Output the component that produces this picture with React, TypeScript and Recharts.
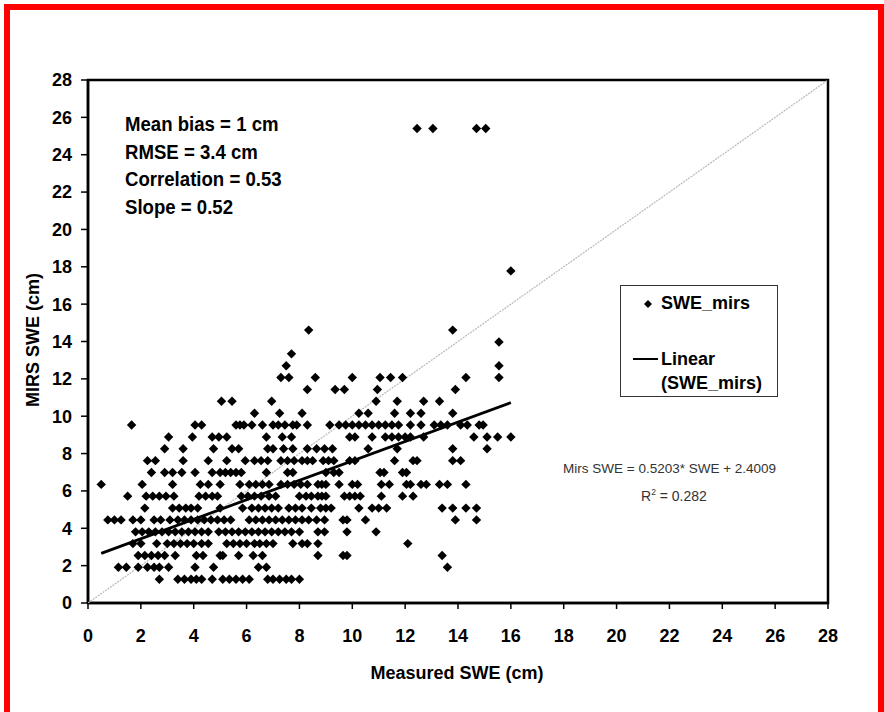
import { ScatterChart, Scatter, XAxis, YAxis, ReferenceArea, Legend } from 'recharts';

// axis ticks (cm)
const axisTicks = [0, 2, 4, 6, 8, 10, 12, 14, 16, 18, 20, 22, 24, 26, 28];

// MIRS SWE comes in quarter-inch steps, so points sit on fixed rows
const mirsLevels = [
  1.27, 1.91, 2.54, 3.18, 3.81, 4.45, 5.08, 5.72, 6.35, 6.99, 7.62, 8.26, 8.89, 9.53, 10.16, 10.8,
  11.43, 12.07, 12.7, 13.34, 13.97, 14.61, 17.78, 25.4,
];

// measured SWE for each row above
const xAt1_27 = [2.7, 3.4, 3.65, 3.9, 4.1, 4.3, 4.7, 5.1, 5.35, 5.6, 5.85, 6.1, 6.8, 7.0, 7.25, 7.5, 7.7, 8.0];
const xAt1_91 = [1.15, 1.45, 1.9, 2.25, 2.5, 2.7, 3.05, 4.05, 4.75, 6.45, 6.75, 13.6];
const xAt2_54 = [1.9, 2.15, 2.4, 2.65, 2.9, 3.3, 4.1, 4.35, 5.0, 5.1, 5.7, 6.25, 6.6, 8.7, 9.65, 9.8, 13.4];
const xAt3_18 = [1.7, 2.0, 2.6, 3.0, 3.25, 3.5, 3.75, 4.0, 4.3, 4.55, 5.25, 5.5, 5.75, 6.0, 6.3, 6.5, 6.75, 7.0, 7.75, 8.1, 8.3, 8.7, 12.1];
const xAt3_81 = [1.8, 2.05, 2.3, 2.55, 2.8, 3.05, 3.3, 3.55, 3.8, 4.05, 4.3, 4.55, 4.95, 5.2, 5.45, 5.7, 5.95, 6.2, 6.45, 6.7, 6.95, 7.2, 7.45, 7.7, 8.0, 8.7, 8.95, 9.8, 10.9];
const xAt4_45 = [0.75, 1.0, 1.25, 1.7, 2.0, 2.5, 2.75, 3.1, 3.4, 3.65, 3.9, 4.15, 4.4, 4.65, 4.9, 5.15, 5.4, 6.1, 6.35, 6.6, 6.85, 7.1, 7.35, 7.6, 7.85, 8.1, 8.35, 8.65, 8.95, 9.65, 9.8, 10.5, 13.9, 14.7];
const xAt5_08 = [2.15, 3.2, 3.45, 3.7, 3.9, 4.15, 5.0, 5.85, 6.2, 6.45, 6.7, 6.95, 7.2, 7.6, 7.85, 8.1, 8.45, 8.8, 9.0, 9.2, 10.25, 10.75, 11.0, 11.3, 13.4, 13.8, 14.3, 14.7];
const xAt5_72 = [1.5, 2.2, 2.45, 2.7, 2.95, 3.25, 4.2, 4.45, 4.7, 4.9, 5.8, 6.05, 6.3, 6.55, 6.85, 7.1, 8.0, 8.25, 8.45, 8.7, 8.85, 9.0, 9.7, 9.9, 10.1, 10.3, 11.1, 11.9, 12.3];
const xAt6_35 = [0.5, 2.05, 3.2, 4.25, 4.55, 5.0, 5.75, 6.1, 6.35, 6.6, 6.85, 7.3, 7.55, 7.8, 8.05, 8.3, 8.7, 8.85, 9.0, 9.5, 10.0, 10.2, 11.1, 11.4, 12.05, 12.2, 12.6, 12.8, 13.3, 13.6, 14.3];
const xAt6_99 = [2.4, 2.9, 3.2, 3.55, 4.05, 4.7, 5.0, 5.2, 5.4, 5.6, 5.8, 6.75, 7.55, 7.75, 9.0, 9.3, 9.5, 11.05, 11.2, 11.9, 12.05];
const xAt7_62 = [2.25, 2.55, 3.6, 4.55, 5.25, 5.95, 6.3, 6.55, 6.8, 7.3, 7.55, 7.8, 8.1, 8.3, 8.5, 8.9, 9.1, 9.3, 9.9, 10.1, 11.6, 12.3, 12.45, 13.8, 14.1];
const xAt8_26 = [2.9, 3.6, 4.75, 5.45, 5.7, 6.8, 7.0, 7.4, 7.75, 8.3, 8.65, 8.95, 9.25, 10.6, 11.7, 13.8, 15.1];
const xAt8_89 = [3.05, 3.95, 4.7, 4.95, 5.25, 6.75, 7.35, 7.7, 9.9, 10.1, 10.75, 11.25, 11.5, 11.75, 12.0, 12.2, 12.7, 14.6, 15.1, 15.5, 16.0];
const xAt9_53 = [1.65, 4.05, 4.3, 5.6, 5.75, 5.9, 6.2, 6.6, 7.0, 7.2, 7.45, 7.75, 7.9, 8.3, 9.15, 9.5, 9.75, 10.0, 10.25, 10.5, 10.75, 11.0, 11.25, 11.5, 11.75, 12.2, 12.6, 13.1, 13.35, 13.6, 14.1, 14.35, 14.8, 14.95];
const xAt10_16 = [6.3, 7.25, 8.1, 10.25, 10.6, 11.6, 12.2, 12.6, 13.8];
const xAt10_8 = [5.05, 5.45, 6.95, 10.9, 11.7, 12.7, 13.3];
const xAt11_43 = [8.3, 9.35, 9.7, 10.95, 13.9];
const xAt12_07 = [7.3, 7.6, 8.6, 10.0, 11.05, 11.45, 11.9, 14.3, 15.55];
const xAt12_7 = [7.5, 15.55];
const xAt13_34 = [7.7];
const xAt13_97 = [15.55];
const xAt14_61 = [8.35, 13.8];
const xAt17_78 = [16.0];
const xAt25_4 = [12.45, 13.05, 14.7, 15.05];

const measuredByLevel = [
  xAt1_27, xAt1_91, xAt2_54, xAt3_18, xAt3_81, xAt4_45, xAt5_08, xAt5_72, xAt6_35, xAt6_99, xAt7_62,
  xAt8_26, xAt8_89, xAt9_53, xAt10_16, xAt10_8, xAt11_43, xAt12_07, xAt12_7, xAt13_34, xAt13_97,
  xAt14_61, xAt17_78, xAt25_4,
];

// linear fit ends and the 1:1 line
const trendX = [0.5, 16];
const trendY = [2.66, 10.73];
const oneToOneX = [0, 28];
const oneToOneY = [0, 28];

const points = mirsLevels.flatMap((y, i) => measuredByLevel[i].map((x) => ({ x, y })));
const trendPoints = trendX.map((x, i) => ({ x, y: trendY[i] }));
const oneToOnePoints = oneToOneX.map((x, i) => ({ x, y: oneToOneY[i] }));

const ARIAL = '"Liberation Sans", Arial, sans-serif';

const Diamond = (props: any) => {
  const { cx, cy } = props;
  const r = 4.7;
  return <path d={`M${cx},${cy - r}L${cx + r},${cy}L${cx},${cy + r}L${cx - r},${cy}Z`} fill="#000" />;
};

const NoMark = () => <g />;

function LegendBox() {
  return (
    <div
      style={{
        width: 158,
        height: 112,
        border: '1px solid #333',
        background: '#fff',
        boxSizing: 'border-box',
        position: 'relative',
        fontFamily: ARIAL,
        fontWeight: 'bold',
        fontSize: 18,
        color: '#000',
      }}
    >
      <svg width={20} height={12} style={{ position: 'absolute', left: 17, top: 12 }}>
        <path d="M10,2L14,6L10,10L6,6Z" fill="#000" />
      </svg>
      <div style={{ position: 'absolute', left: 40, top: 7, lineHeight: '20px' }}>SWE_mirs</div>
      <div style={{ position: 'absolute', left: 12, top: 72, width: 25, height: 2, background: '#000' }} />
      <div style={{ position: 'absolute', left: 40, top: 61, lineHeight: '24px' }}>
        Linear
        <br />
        (SWE_mirs)
      </div>
    </div>
  );
}

export default function App() {
  const tickStyle = { fill: '#000', fontSize: 18, fontWeight: 'bold', fontFamily: ARIAL };
  return (
    <div style={{ position: 'absolute', left: 0, top: 0, width: 884, height: 712, background: '#fff', overflow: 'hidden' }}>
      <div
        style={{
          position: 'absolute',
          left: 4,
          top: 4,
          width: 880,
          height: 720,
          borderLeft: '6px solid #ff0000',
          borderTop: '6px solid #ff0000',
          borderRight: '6px solid #ff0000',
          boxSizing: 'border-box',
        }}
      />
      <ScatterChart width={884} height={712} margin={{ top: 80, right: 56, bottom: 49, left: 18 }}>
        <XAxis
          type="number"
          dataKey="x"
          domain={[0, 28]}
          ticks={axisTicks}
          interval={0}
          height={60}
          tick={tickStyle}
          tickSize={6}
          tickMargin={20}
          axisLine={{ stroke: '#000', strokeWidth: 2.5 }}
          tickLine={{ stroke: '#000', strokeWidth: 1.5 }}
          allowDataOverflow
        />
        <YAxis
          type="number"
          dataKey="y"
          domain={[0, 28]}
          ticks={axisTicks}
          interval={0}
          width={70}
          tick={tickStyle}
          tickSize={7}
          tickMargin={9}
          axisLine={{ stroke: '#000', strokeWidth: 2.5 }}
          tickLine={{ stroke: '#000', strokeWidth: 1.5 }}
          allowDataOverflow
        />
        <ReferenceArea x1={0} x2={28} y1={0} y2={28} fill="none" fillOpacity={0} stroke="#000" strokeWidth={2.5} />
        <Scatter
          name="1:1"
          data={oneToOnePoints}
          line={{ stroke: '#b8b8b8', strokeWidth: 1.2, strokeDasharray: '2 1' }}
          shape={<NoMark />}
          legendType="none"
          isAnimationActive={false}
        />
        <Scatter name="SWE_mirs" data={points} shape={<Diamond />} isAnimationActive={false} />
        <Scatter
          name="Linear (SWE_mirs)"
          data={trendPoints}
          line={{ stroke: '#000', strokeWidth: 2.8 }}
          shape={<NoMark />}
          isAnimationActive={false}
        />
        <Legend
          layout="vertical"
          align="center"
          verticalAlign="middle"
          wrapperStyle={{ left: 620, top: 285, width: 158, height: 112 }}
          content={() => <LegendBox />}
        />
      </ScatterChart>

      <div
        style={{
          position: 'absolute',
          left: 125,
          top: 111,
          fontFamily: ARIAL,
          fontWeight: 'bold',
          fontSize: 20,
          lineHeight: '27.5px',
          color: '#000',
          whiteSpace: 'nowrap',
          transform: 'scaleX(0.93)',
          transformOrigin: 'left top',
        }}
      >
        <div>Mean bias = 1 cm</div>
        <div>RMSE = 3.4 cm</div>
        <div>Correlation = 0.53</div>
        <div>Slope = 0.52</div>
      </div>

      <div style={{ position: 'absolute', left: 563, top: 460, fontFamily: ARIAL, fontSize: 13.5, color: '#333', whiteSpace: 'nowrap', lineHeight: '17px' }}>
        Mirs SWE = 0.5203* SWE + 2.4009
      </div>
      <div style={{ position: 'absolute', left: 641, top: 484, fontFamily: ARIAL, fontSize: 14, color: '#333', whiteSpace: 'nowrap', lineHeight: '17px' }}>
        R<sup style={{ fontSize: 8.5 }}>2</sup> = 0.282
      </div>

      <div
        style={{
          position: 'absolute',
          left: 357,
          top: 661,
          width: 200,
          textAlign: 'center',
          fontFamily: ARIAL,
          fontWeight: 'bold',
          fontSize: 18,
          lineHeight: '24px',
          color: '#000',
        }}
      >
        Measured SWE (cm)
      </div>
      <div
        style={{
          position: 'absolute',
          left: 33 - 100,
          top: 340 - 12,
          width: 200,
          textAlign: 'center',
          transform: 'rotate(-90deg)',
          fontFamily: ARIAL,
          fontWeight: 'bold',
          fontSize: 18,
          lineHeight: '24px',
          color: '#000',
        }}
      >
        MIRS SWE (cm)
      </div>
    </div>
  );
}
